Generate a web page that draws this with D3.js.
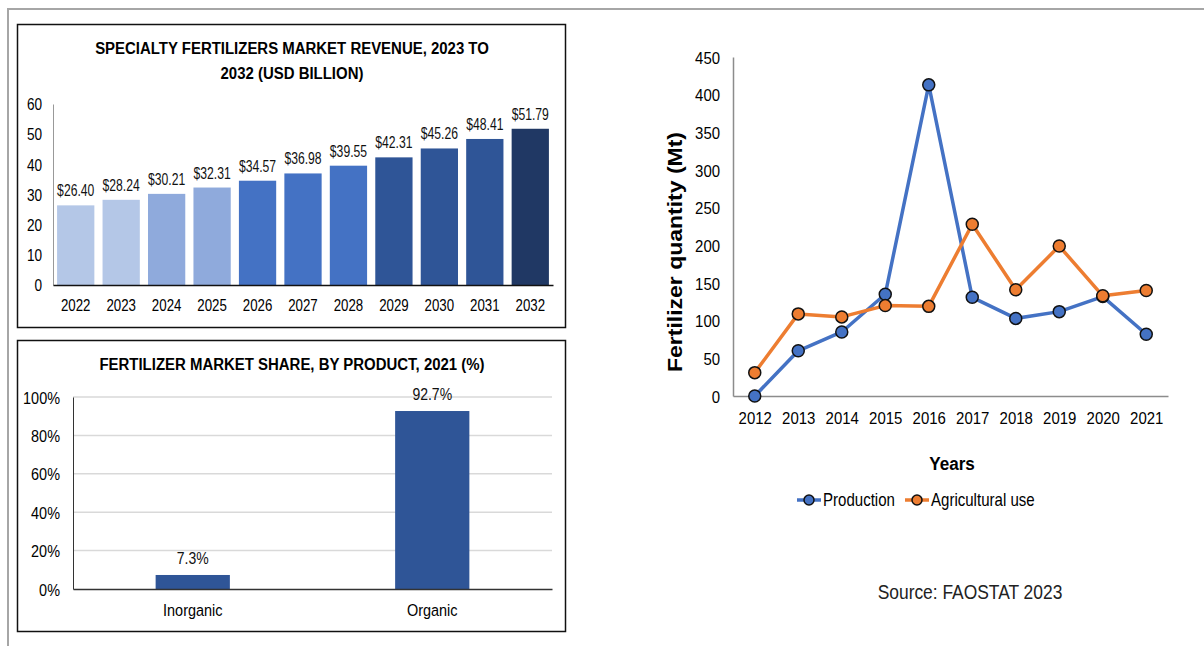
<!DOCTYPE html>
<html><head><meta charset="utf-8">
<script src="https://cdn.jsdelivr.net/npm/d3@7"></script>
<style>
html,body{margin:0;padding:0;background:#fff;}
svg{display:block;font-family:"Liberation Sans",Arial,sans-serif;}
</style></head>
<body>
<svg id="c" width="1204" height="646"></svg>
<script>
// ---- Data ----
const revenueYears = ["2022","2023","2024","2025","2026","2027","2028","2029","2030","2031","2032"];
const revenueValues = [26.40,28.24,30.21,32.31,34.57,36.98,39.55,42.31,45.26,48.41,51.79];
const revenueColors = ["#b4c7e7","#b4c7e7","#8faadc","#8faadc","#4472c4","#4472c4","#4472c4","#2f5597","#2f5597","#2f5597","#203864"];
const revenueTicks = [0,10,20,30,40,50,60];

const shareProducts = ["Inorganic","Organic"];
const shareValues = [7.3,92.7];
const shareTicks = [0,20,40,60,80,100];

const lineYears = ["2012","2013","2014","2015","2016","2017","2018","2019","2020","2021"];
const production = [0,60,85,135,413,131,103,112,132,82];
const agriculturalUse = [31,109,105,120,119,228,141,199,133,140];
const lineTicks = [0,50,100,150,200,250,300,350,400,450];

const svg = d3.select("#c");

// horizontally condense text around its own x anchor (keeps real text)
function condense(sel, sx){
  sel.each(function(){
    const t = d3.select(this);
    const x = +(t.attr("x") || 0);
    const prev = t.attr("transform") || "";
    t.attr("transform", prev + ` translate(${x},0) scale(${sx},1) translate(${-x},0)`);
  });
  return sel;
}

// outer gray frame
svg.append("line").attr("x1",8).attr("x2",1204).attr("y1",9).attr("y2",9).attr("stroke","#a6a6a6").attr("stroke-width",2);
svg.append("line").attr("x1",8).attr("x2",8).attr("y1",8).attr("y2",646).attr("stroke","#a6a6a6").attr("stroke-width",2);

// ---- Chart 1: revenue ----
svg.append("rect").attr("x",17.5).attr("y",24.5).attr("width",548).attr("height",303).attr("fill","none").attr("stroke","#111").attr("stroke-width",1.5);
const g1 = svg.append("g");
condense(g1.append("text").attr("x",292).attr("y",54).attr("text-anchor","middle").attr("font-weight","bold").attr("font-size",17).attr("fill","#000").text("SPECIALTY FERTILIZERS MARKET REVENUE, 2023 TO"),0.88);
condense(g1.append("text").attr("x",292).attr("y",79).attr("text-anchor","middle").attr("font-weight","bold").attr("font-size",17).attr("fill","#000").text("2032 (USD BILLION)"),0.88);

const x1 = d3.scaleBand().domain(revenueYears).range([53,553]).paddingInner(0.18).paddingOuter(0.09);
const y1 = d3.scaleLinear().domain([0,60]).range([285,104]);
g1.selectAll("rect.bar").data(revenueValues).join("rect").attr("class","bar")
  .attr("x",(d,i)=>x1(revenueYears[i])).attr("width",x1.bandwidth())
  .attr("y",d=>y1(d)).attr("height",d=>y1(0)-y1(d)).attr("fill",(d,i)=>revenueColors[i]);
condense(g1.selectAll("text.val").data(revenueValues).join("text").attr("class","val")
  .attr("x",(d,i)=>x1(revenueYears[i])+x1.bandwidth()/2).attr("y",d=>y1(d)-9)
  .attr("text-anchor","middle").attr("font-size",16).attr("fill","#111").text(d=>"$"+d.toFixed(2)),0.76);
const ya1 = g1.append("g").attr("transform","translate(53,0)").call(d3.axisLeft(y1).tickValues(revenueTicks).tickSize(0).tickPadding(11));
ya1.select(".domain").attr("stroke","#999").attr("stroke-width",1);
ya1.selectAll("text").attr("font-size",16).attr("fill","#000").attr("font-family",null).attr("dy","0.36em");
condense(ya1.selectAll("text"),0.85);
const xa1 = g1.append("g").attr("transform","translate(0,285)").call(d3.axisBottom(x1).tickSize(0).tickPadding(15));
xa1.select(".domain").attr("stroke","#111").attr("stroke-width",1.5);
xa1.selectAll("text").attr("font-size",16).attr("fill","#000").attr("font-family",null);
condense(xa1.selectAll("text"),0.83);

// ---- Chart 2: market share ----
svg.append("rect").attr("x",17.5).attr("y",340.5).attr("width",548).attr("height",291).attr("fill","none").attr("stroke","#111").attr("stroke-width",1.5);
const g2 = svg.append("g");
condense(g2.append("text").attr("x",292).attr("y",370).attr("text-anchor","middle").attr("font-weight","bold").attr("font-size",17).attr("fill","#000").text("FERTILIZER MARKET SHARE, BY PRODUCT, 2021 (%)"),0.88);
const x2 = d3.scaleBand().domain(shareProducts).range([73,552]).paddingInner(0.69).paddingOuter(0.345);
const y2 = d3.scaleLinear().domain([0,100]).range([589,397]);
g2.selectAll("line.grid").data(shareTicks.filter(t=>t>0)).join("line").attr("class","grid")
  .attr("x1",73).attr("x2",552).attr("y1",d=>y2(d)).attr("y2",d=>y2(d)).attr("stroke","#d9d9d9").attr("stroke-width",1.5);
g2.selectAll("rect.bar").data(shareValues).join("rect").attr("class","bar")
  .attr("x",(d,i)=>x2(shareProducts[i])).attr("width",x2.bandwidth())
  .attr("y",d=>y2(d)).attr("height",d=>y2(0)-y2(d)).attr("fill","#2f5597");
condense(g2.selectAll("text.val").data(shareValues).join("text").attr("class","val")
  .attr("x",(d,i)=>x2(shareProducts[i])+x2.bandwidth()/2).attr("y",d=>y2(d)-11)
  .attr("text-anchor","middle").attr("font-size",16.5).attr("fill","#111").text(d=>d.toFixed(1)+"%"),0.85);
const ya2 = g2.append("g").attr("transform","translate(73,0)").call(d3.axisLeft(y2).tickValues(shareTicks).tickSize(0).tickPadding(13).tickFormat(d=>d+"%"));
ya2.select(".domain").attr("stroke","#333").attr("stroke-width",1);
ya2.selectAll("text").attr("font-size",17).attr("fill","#000").attr("font-family",null).attr("dy","0.36em");
condense(ya2.selectAll("text"),0.85);
const xa2 = g2.append("g").attr("transform","translate(0,589)").call(d3.axisBottom(x2).tickSize(0).tickPadding(15));
xa2.select(".domain").attr("stroke","#333").attr("stroke-width",1.5);
xa2.selectAll("text").attr("font-size",17).attr("fill","#000").attr("font-family",null);
condense(xa2.selectAll("text"),0.85);

// ---- Chart 3: line ----
const g3 = svg.append("g");
const x3 = d3.scalePoint().domain(lineYears).range([733,1168]).padding(0.5);
const y3 = d3.scaleLinear().domain([0,450]).range([396,57]);
const ya3 = g3.append("g").attr("transform","translate(733,0)").call(d3.axisLeft(y3).tickValues(lineTicks).tickSize(0).tickPadding(13));
ya3.select(".domain").attr("stroke","#8c8c8c").attr("stroke-width",1.5);
ya3.selectAll("text").attr("font-size",17).attr("fill","#000").attr("font-family",null).attr("dy","0.36em");
condense(ya3.selectAll("text"),0.88);
const xa3 = g3.append("g").attr("transform","translate(0,396)").call(d3.axisBottom(x3).tickSize(0).tickPadding(16));
xa3.select(".domain").attr("stroke","#8c8c8c").attr("stroke-width",1.5);
xa3.selectAll("text").attr("font-size",17).attr("fill","#000").attr("font-family",null);
condense(xa3.selectAll("text"),0.88);

const series = [
  {name:"Production", values:production, color:"#4472c4"},
  {name:"Agricultural use", values:agriculturalUse, color:"#ed7d31"}
];
const line = d3.line().x((d,i)=>x3(lineYears[i])).y(d=>y3(d));
series.forEach(s=>{
  g3.append("path").datum(s.values).attr("d",line).attr("fill","none").attr("stroke",s.color).attr("stroke-width",3.5).attr("stroke-linejoin","round");
});
series.forEach(s=>{
  g3.selectAll(null).data(s.values).join("circle")
    .attr("cx",(d,i)=>x3(lineYears[i])).attr("cy",d=>y3(d)).attr("r",6)
    .attr("fill",s.color).attr("stroke","#111").attr("stroke-width",1.5);
});

g3.append("text").attr("transform","translate(682,252) rotate(-90) scale(1,0.85)").attr("text-anchor","middle")
  .attr("font-weight","bold").attr("font-size",23).attr("fill","#000").text("Fertilizer quantity (Mt)");
condense(g3.append("text").attr("x",952).attr("y",470).attr("text-anchor","middle")
  .attr("font-weight","bold").attr("font-size",19).attr("fill","#000").text("Years"),0.9);

// legend
const legendX = [797, 905];
series.forEach((s,i)=>{
  const lx = legendX[i];
  g3.append("line").attr("x1",lx).attr("x2",lx+24).attr("y1",500).attr("y2",500).attr("stroke",s.color).attr("stroke-width",3.5);
  g3.append("circle").attr("cx",lx+12).attr("cy",500).attr("r",5).attr("fill",s.color).attr("stroke","#111").attr("stroke-width",1.5);
  condense(g3.append("text").attr("x",lx+26).attr("y",506).attr("font-size",17.5).attr("fill","#000").text(s.name),0.86);
});

condense(g3.append("text").attr("x",970).attr("y",599).attr("text-anchor","middle").attr("font-size",20).attr("fill","#222").text("Source: FAOSTAT 2023"),0.87);
</script>
</body></html>
